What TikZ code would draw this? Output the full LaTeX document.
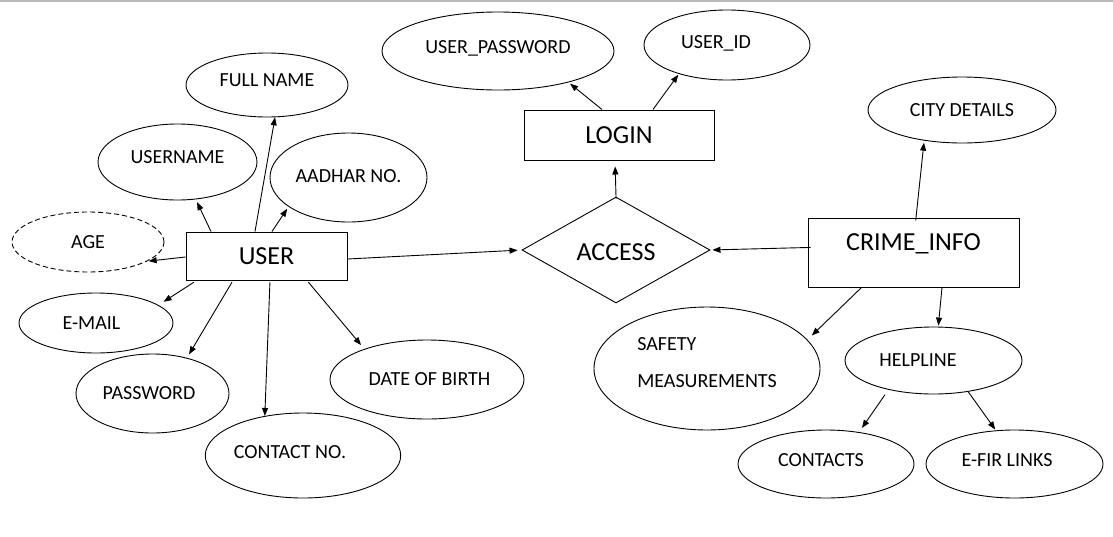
\documentclass[tikz,border=0pt]{standalone}
\usepackage{fontspec}
\setmainfont{Carlito}
\usetikzlibrary{arrows.meta,shapes.geometric}
\tikzset{
  entbox/.style={draw=black,line width=1pt,rectangle,inner sep=0pt,font=\fontsize{26}{30}\selectfont},
  attr/.style={draw=black,line width=0.9pt,ellipse,inner sep=0pt,font=\fontsize{20}{24}\selectfont},
  relbox/.style={draw=black,line width=0.9pt,diamond,inner sep=0pt,font=\fontsize{26}{30}\selectfont},
  erarrow/.style={-{Triangle[length=8pt,width=6pt]},line width=0.9pt,draw=black}
}
\begin{document}
\begin{tikzpicture}[x=1pt,y=-1pt]
\useasboundingbox (0,0) rectangle (1113,536);
\draw[gray!55,line width=1.5pt] (0,0.75)--(1113,0.75);
% entities and relation
\node[entbox,minimum width=161pt,minimum height=48pt] (user) at (266.5,256) {USER};
\node[entbox,minimum width=190pt,minimum height=50pt] (login) at (619,135) {LOGIN};
\node[relbox,minimum width=188pt,minimum height=106pt,text height=20pt,text depth=0pt] (access) at (616,250) {ACCESS};
\node[entbox,minimum width=211pt,text height=32pt,text depth=37pt] (crime) at (913.5,252.5) {CRIME\_INFO};
% user attributes
\node[attr,minimum width=162pt,minimum height=64pt,text depth=10pt] (fullname) at (267,85) {FULL NAME};
\node[attr,minimum width=159pt,minimum height=76pt,text depth=10pt] (username) at (177.5,162) {USERNAME};
\node[attr,minimum width=157pt,minimum height=89pt,text depth=3pt] (aadhar) at (348.5,177.5) {AADHAR NO.};
\node[attr,dash pattern=on 5pt off 3pt,minimum width=152pt,minimum height=60pt] (age) at (88,242) {AGE};
\node[attr,minimum width=154pt,minimum height=60pt] (email) at (96,323) {E-MAIL\hspace*{9pt}};
\node[attr,minimum width=153pt,minimum height=79pt] (password) at (152.5,393.5) {PASSWORD\hspace*{7pt}};
\node[attr,minimum width=192pt,minimum height=85pt,text depth=7pt] (contactno) at (303,455.5) {CONTACT NO.\hspace*{26pt}};
\node[attr,minimum width=194pt,minimum height=79pt] (dob) at (427,379.5) {\hspace*{5pt}DATE OF BIRTH};
% login attributes
\node[attr,minimum width=232pt,minimum height=78pt,text depth=8pt] (userpw) at (498,51) {USER\_PASSWORD};
\node[attr,minimum width=166pt,minimum height=70pt,text depth=6pt] (userid) at (727,45) {USER\_ID\hspace*{22pt}};
% crime_info attributes
\node[attr,minimum width=188pt,minimum height=66pt] (city) at (962,110) {CITY DETAILS};
\node[attr,align=left,font=\fontsize{20}{37}\selectfont,text height=50pt,text depth=12pt,minimum width=226pt,minimum height=123pt] (safety) at (707,368.5) {SAFETY\\MEASUREMENTS};
\node[attr,minimum width=177pt,minimum height=67pt] (helpline) at (933.5,360.5) {HELPLINE\hspace*{31pt}};
\node[attr,minimum width=176pt,minimum height=68pt,text depth=8pt] (contacts) at (826,464) {CONTACTS\hspace*{10pt}};
\node[attr,minimum width=177pt,minimum height=68pt,text depth=8pt] (efir) at (1014.5,464) {E-FIR LINKS\hspace*{15pt}};
% connectors
\draw[erarrow,shorten >=3pt] ([xshift=-55.5pt]user.north) -- (username.-64);
\draw[erarrow] ([xshift=-11.5pt]user.north) -- (fullname.-76);
\draw[erarrow,shorten >=2.4pt] ([xshift=5.5pt]user.north) -- (aadhar.-154.7);
\draw[erarrow,shorten >=1.4pt] ([yshift=-1pt]user.west) -- (age.-18.7);
\draw[erarrow,shorten <=3pt,shorten >=6pt] ([xshift=11pt]user.south west) -- (email.16.6);
\draw[erarrow,shorten <=2pt,shorten >=4pt] ([xshift=-33.5pt]user.south) -- (password.46.5);
\draw[erarrow,shorten <=2pt] ([xshift=3.5pt]user.south) -- (contactno.134.6);
\draw[erarrow,shorten <=2pt,shorten >=5pt] ([xshift=40.5pt]user.south) -- (dob.154.1);
\draw[erarrow,shorten >=4pt] ([yshift=-3pt]user.east) -- (access.west);
\draw[erarrow,shorten >=2pt] ([xshift=-17pt]login.north) -- (userpw.-24.3);
\draw[erarrow,shorten >=1pt] ([xshift=34pt]login.north) -- (userid.-149.4);
\draw[erarrow,shorten <=-2pt,shorten >=6pt] (access.north) -- ([xshift=-4pt]login.south);
\draw[erarrow,shorten <=-3pt,shorten >=2pt] ([yshift=5pt]crime.west) -- (access.east);
\draw[erarrow,shorten <=-3pt,shorten >=2pt] ([xshift=2.5pt]crime.north) -- (city.-141.8);
\draw[erarrow,shorten >=6pt] ([xshift=54pt]crime.south west) -- (safety.16);
\draw[erarrow,shorten >=1pt] ([xshift=28.5pt]crime.south) -- (helpline.82.6);
\draw[erarrow,shorten <=6pt,shorten >=5pt] (helpline.-147.7) -- (contacts.44.2);
\draw[erarrow,shorten >=1pt] (helpline.-42.3) -- (efir.119.8);
\end{tikzpicture}
\end{document}
